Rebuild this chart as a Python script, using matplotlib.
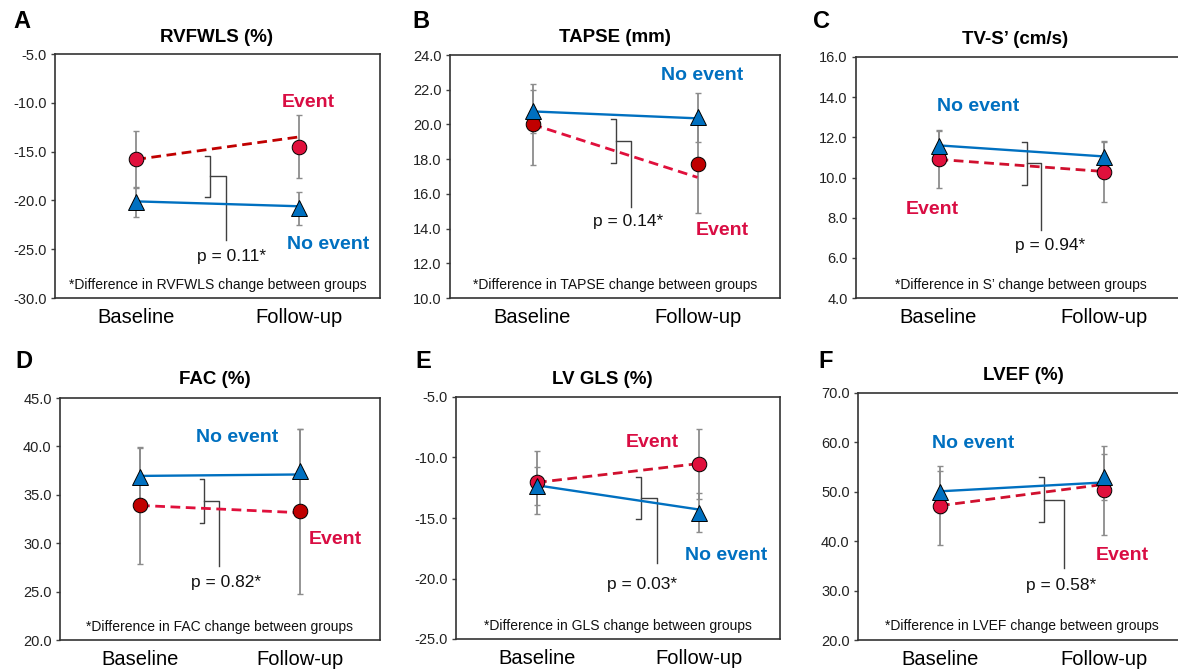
import matplotlib
matplotlib.use("Agg")
from matplotlib import pyplot as plt

plt.rcParams['font.family'] = ['Liberation Sans', 'DejaVu Sans']

# ---- data ----
letters = ["A", "B", "C", "D", "E", "F"]
titles = ["RVFWLS (%)", "TAPSE (mm)", "TV-S\u2019 (cm/s)", "FAC (%)", "LV GLS (%)", "LVEF (%)"]
note_names = ["RVFWLS", "TAPSE", "S\u2019", "FAC", "GLS", "LVEF"]
p_values = ["0.11", "0.14", "0.94", "0.82", "0.03", "0.58"]
timepoints = ["Baseline", "Follow-up"]

y_limits = [(-30, -5), (10, 24), (4, 16), (20, 45), (-25, -5), (20, 70)]
y_steps = [5, 2, 2, 5, 5, 10]

event_mean = [[-15.8, -14.5], [20.0, 17.7], [10.9, 10.27], [33.9, 33.3], [-12.06, -10.55], [47.2, 50.3]]
event_sd = [[2.9, 3.25], [2.35, 2.8], [1.4, 1.5], [6.0, 8.5], [2.6, 2.9], [8.0, 9.0]]
event_fit = [[-15.8, -13.5], [20.0, 16.95], [10.9, 10.3], [33.9, 33.15], [-12.06, -10.5], [47.2, 51.5]]

none_mean = [[-20.15, -20.8], [20.75, 20.4], [11.57, 11.0], [36.85, 37.5], [-12.36, -14.56], [50.0, 53.0]]
none_sd = [[1.5, 1.7], [1.25, 1.4], [0.8, 0.8], [3.0, 4.3], [1.55, 1.6], [4.2, 4.7]]
none_fit = [[-20.1, -20.6], [20.75, 20.35], [11.6, 11.05], [36.95, 37.1], [-12.3, -14.3], [50.1, 51.9]]

# ---- layout (pixels, origin top-left) ----
W, H = 1178, 671
axes_px = [(55, 380, 54, 298), (450, 780, 55, 298), (856, 1186, 57, 298),
           (60, 380, 398, 640), (456, 780, 397, 639), (858, 1186, 393, 640)]
letter_px = [(13, 21), (412, 21), (813, 22), (15, 361), (415, 362), (818, 362)]
title_px = [(217, 38), (615, 38), (1015, 40), (215, 380), (602, 380), (1023, 375)]

# bracket: x, top, bottom, connector x, connector bottom (data coords)
brackets = [(0.454, -15.4, -19.7, 0.552, -24.1), (0.506, 20.3, 17.8, 0.597, 15.25),
            (0.534, 11.77, 9.64, 0.62, 7.4), (0.40, 36.6, 32.1, 0.494, 27.6),
            (0.64, -11.6, -15.1, 0.74, -18.7), (0.634, 52.95, 43.8, 0.756, 34.6)]
event_label_xy = [(1.057, -9.95), (1.15, 13.9), (-0.04, 8.4), (1.22, 30.4), (0.71, -8.76), (1.11, 37.1)]
none_label_xy = [(1.18, -24.5), (1.03, 22.8), (0.24, 13.54), (0.61, 40.9), (1.17, -18.1), (0.20, 59.8)]
p_xy = [(0.589, -25.7), (0.579, 14.4), (0.675, 6.62), (0.54, 25.9), (0.65, -20.5), (0.74, 31.1)]

blue = "#0070C0"
red_text = "#D90D43"
red_marker = ["#E0103C", "#C00000", "#E0103C", "#C00000", "#E0103C", "#E0103C"]
red_line = ["#C00000", "#E0103C", "#D0102E", "#E0103C", "#D0102E", "#D0102E"]

fig = plt.figure(figsize=(W / 100, H / 100), dpi=100)

for i in range(6):
    l, r, t, b = axes_px[i]
    ax = fig.add_axes([l / W, 1 - b / H, (r - l) / W, (b - t) / H])
    x = [0, 1]

    # error bars
    ax.errorbar(x, event_mean[i], yerr=event_sd[i], fmt="none", ecolor="#8c8c8c",
                elinewidth=1.3, capsize=2.5, capthick=1.0, zorder=2)
    ax.errorbar(x, none_mean[i], yerr=none_sd[i], fmt="none", ecolor="#8c8c8c",
                elinewidth=1.3, capsize=2.5, capthick=1.0, zorder=2)

    # fitted lines
    ax.plot(x, none_fit[i], color=blue, lw=1.7, zorder=3)
    ax.plot(x, event_fit[i], color=red_line[i], lw=2.0, linestyle=(0, (3.5, 2)), zorder=3)

    # markers
    ax.plot(x, none_mean[i], linestyle="none", marker="^", markersize=11,
            markerfacecolor=blue, markeredgecolor="black", markeredgewidth=0.7, zorder=5)
    ax.plot(x, event_mean[i], linestyle="none", marker="o", markersize=10.5,
            markerfacecolor=red_marker[i], markeredgecolor="black", markeredgewidth=0.7, zorder=4)

    # bracket
    bx, btop, bbot, cx, cbot = brackets[i]
    mid = (btop + bbot) / 2
    tick = 0.028
    ax.plot([bx - tick, bx, bx, bx - tick], [btop, btop, bbot, bbot], color="#404040", lw=1.0, zorder=1)
    ax.plot([bx, cx, cx], [mid, mid, cbot], color="#404040", lw=1.0, zorder=1)

    # labels
    ax.text(*event_label_xy[i], "Event", color=red_text, fontsize=14, fontweight="bold",
            ha="center", va="center")
    ax.text(*none_label_xy[i], "No event", color=blue, fontsize=14, fontweight="bold",
            ha="center", va="center")
    ax.text(*p_xy[i], f"p = {p_values[i]}*", fontsize=12.5, ha="center", va="center", color="#111111")
    ax.text(0.5, 0.055, f"*Difference in {note_names[i]} change between groups", fontsize=10,
            ha="center", va="center", transform=ax.transAxes, color="#111111")

    lo, hi = y_limits[i]
    ax.set_ylim(lo, hi)
    ax.set_xlim(-0.5, 1.5)
    ticks = [lo + k * y_steps[i] for k in range(int(round((hi - lo) / y_steps[i])) + 1)]
    ax.set_yticks(ticks)
    ax.set_yticklabels([f"{v:.1f}" for v in ticks], fontsize=10.5, color="#222222")
    ax.set_xticks(x)
    ax.set_xticklabels(timepoints, fontsize=14.5)
    ax.tick_params(axis="x", length=0, pad=7)
    ax.tick_params(axis="y", direction="out", length=3, width=1.0, color="#404040", pad=3)
    for s in ax.spines.values():
        s.set_color("#333333")
        s.set_linewidth(1.2)

    # panel letter and title
    lx, ly = letter_px[i]
    fig.text(lx / W, 1 - ly / H, letters[i], fontsize=17, fontweight="bold", ha="left", va="center")
    tx, ty = title_px[i]
    fig.text(tx / W, 1 - ty / H, titles[i], fontsize=13.5, fontweight="bold", ha="center", va="center")

fig.savefig("out.png", dpi=100)
